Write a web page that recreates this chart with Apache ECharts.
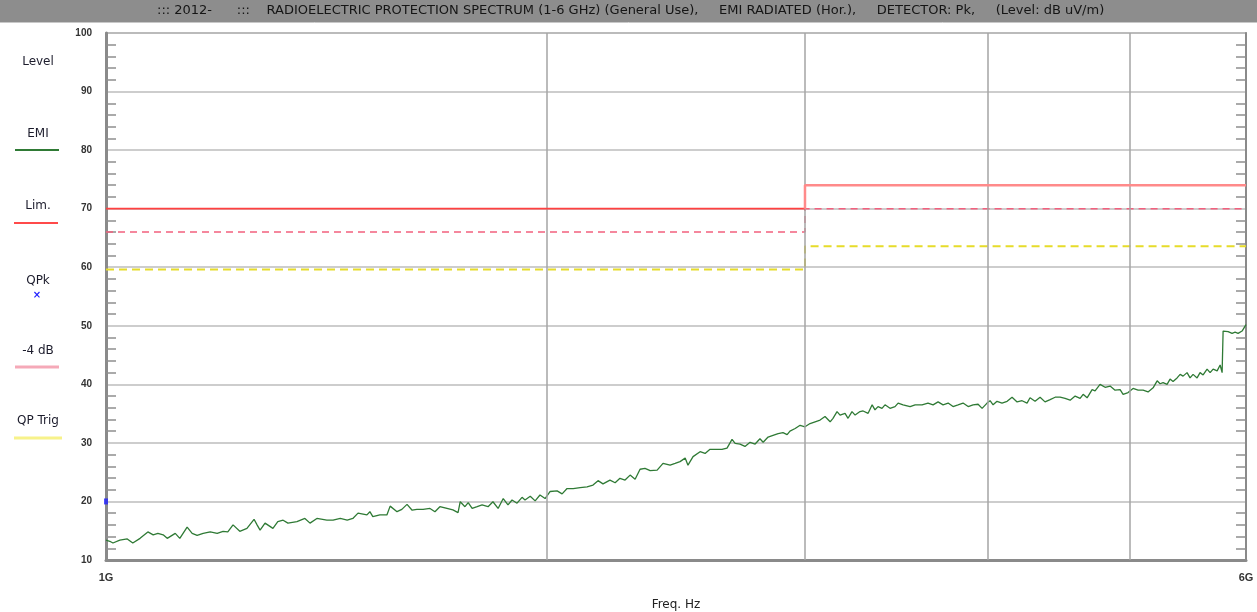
<!DOCTYPE html>
<html>
<head>
<meta charset="utf-8">
<script src="https://cdn.jsdelivr.net/npm/echarts/dist/echarts.min.js"></script>
<style>
  html, body { margin: 0; padding: 0; background: #ffffff; }
  #chart { width: 1257px; height: 612px; }
</style>
</head>
<body>
<div id="chart"></div>
<script>
// EMI sweep: frequency (MHz) and measured peak level (dB uV/m)
const freqMHz = [
  1000,1006,1011,1022,1034,1043,1055,1068,1077,1085,1094,1101,1115,1123,1136,1145,1154,1165,1178,1191,
  1202,1211,1221,1234,1248,1262,1268,1274,1284,1300,1310,1321,1331,1350,1367,1378,1393,1415,1429,1445,
  1461,1474,1486,1507,1514,1521,1538,1555,1563,1580,1592,1605,1618,1630,
  1646,1664,1677,1690,1709,1725,1739,1745,1758,1767,1778,1792,1806,1823,1837,1852,1867,1881,1893,1908,
  1923,1932,1948,1963,1978,1994,2010,2032,2048,2064,2084,2107,2130,2150,2167,2184,2208,2226,2243,2261,
  2279,2297,2315,2333,2352,2378,2400,2427,2446,2465,2485,2496,2516,2544,2564,2584,2605,2633,2654,2675,
  2688,2709,
  2730,2752,2774,2795,2809,2831,2853,2876,2898,2917,2930,2954,2977,3000,3024,3048,3072,3096,3121,3135,
  3155,3170,3195,3210,3230,3246,3271,3287,3313,3334,3349,3365,3386,3402,3429,3456,3473,3500,3539,3567,
  3606,3640,3669,3698,3727,3757,3786,3816,3846,3877,3907,3938,3963,3994,4013,4032,4057,4089,4122,4154,
  4187,4220,4253,4273,4307,4341,4375,4410,4445,4480,
  4515,4551,4587,4623,4645,4674,4711,4733,4770,4808,4846,4884,4923,4946,4985,5024,5064,5104,5144,5185,
  5218,5242,5267,5300,5325,5350,5384,5410,5435,5469,5495,5521,5556,5582,5609,5644,5671,5698,5734,5761,
  5779,5788,5806,5834,5870,5898,5926,5963,6000
];
const emiLevel = [
  13.4,13.2,12.9,13.4,13.6,12.9,13.7,14.8,14.3,14.55,14.3,13.7,14.55,13.7,15.6,14.55,14.2,14.55,14.8,14.55,
  14.9,14.8,16.0,14.9,15.4,16.95,16.0,15.1,16.3,15.4,16.55,16.8,16.3,16.55,17.1,16.3,17.1,16.8,16.8,17.1,
  16.8,17.1,18.0,17.7,18.25,17.4,17.7,17.7,19.2,18.25,18.65,19.5,18.5,18.65,
  18.65,18.8,18.25,19.1,18.8,18.55,18.1,19.95,19.1,19.8,18.8,19.1,19.4,19.1,19.95,18.8,20.5,19.4,20.25,19.7,
  20.7,20.25,20.9,20.1,21.1,20.5,21.7,21.8,21.3,22.2,22.2,22.35,22.5,22.8,23.55,23.0,23.65,23.2,23.95,23.65,
  24.5,23.8,25.5,25.65,25.25,25.35,26.5,26.2,26.5,26.8,27.4,26.2,27.65,28.5,28.2,28.9,28.9,28.9,29.1,30.6,
  29.9,29.8,
  29.4,30.1,29.8,30.7,30.1,31.0,31.3,31.6,31.75,31.4,32.0,32.45,33.0,32.75,33.3,33.6,33.9,34.5,33.6,34.2,
  35.35,34.75,35.05,34.2,35.35,34.75,35.35,35.45,35.05,36.5,35.65,36.2,35.9,36.5,35.9,36.2,36.8,36.5,36.2,36.5,
  36.5,36.8,36.5,37.0,36.5,36.8,36.2,36.5,36.8,36.2,36.5,36.6,35.9,36.8,37.2,36.5,37.1,36.8,37.1,37.8,
  37.0,37.2,36.8,37.7,37.1,37.8,37.0,37.4,37.8,37.8,
  37.6,37.3,38.0,37.6,38.3,37.7,39.1,38.9,40.0,39.5,39.7,39.0,39.1,38.3,38.6,39.3,39.0,39.0,38.7,39.4,
  40.6,40.1,40.3,40.0,40.9,40.5,41.1,41.7,41.4,42.0,41.1,41.7,41.1,42.0,41.6,42.6,42.0,42.6,42.3,43.3,
  42.0,49.1,49.1,49.0,48.7,48.9,48.7,49.1,50.2
];

// Limit bands (MHz edges) and per-band levels
const bandEdgesMHz = [1000, 3000, 6000];
const limitLevel   = [70, 74];
const minus4Level  = [66, 70];
const qpTrigLevel  = [59.6, 63.6];

// Quasi-peak result
const qpkFreqMHz = [1000];
const qpkLevel   = [20];

// Axis ticks
const xGridMHz   = [2000, 3000, 4000, 5000];
const xLabelMHz  = [1000, 6000];
const xLabelText = ['1G', '6G'];
const yMin = 10, yMax = 100, yStep = 10;

const FONT = '"DejaVu Sans", Verdana, sans-serif';
const NUM_FONT = '"Liberation Sans", Arial, sans-serif';

function bandSteps(levels) {
  const pts = [];
  for (let i = 0; i < levels.length; i++) {
    pts.push([bandEdgesMHz[i], levels[i]]);
    pts.push([bandEdgesMHz[i + 1], levels[i]]);
  }
  return pts;
}

const emiData = freqMHz.map((f, i) => [f, emiLevel[i]]);
const qpkData = qpkFreqMHz.map((f, i) => [f, qpkLevel[i]]);
const limLow  = [[bandEdgesMHz[0], limitLevel[0]], [bandEdgesMHz[1], limitLevel[0]]];
const limHigh = [[bandEdgesMHz[1], limitLevel[0]], [bandEdgesMHz[1], limitLevel[1]], [bandEdgesMHz[2], limitLevel[1]]];

const chart = echarts.init(document.getElementById('chart'), null, { renderer: 'canvas' });

// Left-hand key: caption above a short sample stroke
const keyItems = [
  { text: 'Level',   y: 62 },
  { text: 'EMI',     y: 134, line: { y: 150, x1: 15, x2: 59, color: '#2f7a35', width: 2 } },
  { text: 'Lim.',    y: 206, line: { y: 223, x1: 14, x2: 58, color: '#ff4a4a', width: 2 } },
  { text: 'QPk',     y: 281, mark: { x: 37, y: 295 } },
  { text: '-4 dB',   y: 351, line: { y: 367, x1: 15, x2: 59, color: '#f5a9b8', width: 3 } },
  { text: 'QP Trig', y: 421, line: { y: 438, x1: 14, x2: 62, color: '#f7f28a', width: 3 } }
];
const keyGraphics = [];
keyItems.forEach(k => {
  keyGraphics.push({
    type: 'text', x: 38, y: k.y,
    style: { text: k.text, fill: '#1c1c2c', font: '12px ' + FONT, textAlign: 'center', textVerticalAlign: 'middle' }
  });
  if (k.line) {
    keyGraphics.push({
      type: 'line',
      shape: { x1: k.line.x1, y1: k.line.y, x2: k.line.x2, y2: k.line.y },
      style: { stroke: k.line.color, lineWidth: k.line.width }
    });
  }
  if (k.mark) {
    keyGraphics.push({
      type: 'text', x: k.mark.x, y: k.mark.y,
      style: { text: '×', fill: '#2222ff', font: 'bold 10px ' + FONT, textAlign: 'center', textVerticalAlign: 'middle' }
    });
  }
});

const option = {
  animation: false,
  backgroundColor: '#ffffff',
  title: {
    text: '::: 2012-      :::    RADIOELECTRIC PROTECTION SPECTRUM (1-6 GHz) (General Use),     EMI RADIATED (Hor.),     DETECTOR: Pk,     (Level: dB uV/m)',
    left: 157, top: 4, padding: 0,
    textStyle: { fontFamily: FONT, fontSize: 13, fontWeight: 'normal', color: '#151515' }
  },
  graphic: [
    { type: 'rect', z: -10, shape: { x: 0, y: 0, width: 1257, height: 22 }, style: { fill: '#8d8d8d' } },
    { type: 'line', z: -10, shape: { x1: 0, y1: 22.5, x2: 1257, y2: 22.5 }, style: { stroke: '#c8c8c8', lineWidth: 1 } }
  ].concat(keyGraphics),
  grid: {
    left: 106, right: 11, top: 33, bottom: 52,
    outerBoundsMode: 'none',
    show: true, borderColor: '#a0a0a0', borderWidth: 1.5, backgroundColor: '#ffffff'
  },
  xAxis: {
    type: 'log', logBase: 10, min: 1000, max: 6000,
    name: 'Freq. Hz', nameLocation: 'middle', nameGap: 39,
    nameTextStyle: { fontFamily: FONT, fontSize: 12, color: '#222' },
    axisLine: { show: true, lineStyle: { color: '#8a8a8a', width: 3 } },
    axisTick: { show: false },
    axisLabel: {
      customValues: xLabelMHz,
      formatter: v => xLabelText[xLabelMHz.indexOf(Math.round(v))] || '',
      fontFamily: NUM_FONT, fontSize: 11, fontWeight: 'bold', color: '#333', margin: 12
    },
    splitLine: { show: false },
    minorSplitLine: { show: false }
  },
  yAxis: [
    {
      type: 'value', min: yMin, max: yMax, interval: yStep,
      axisLine: { show: true, lineStyle: { color: '#8a8a8a', width: 3 } },
      axisTick: { show: false, inside: true },
      minorTick: { show: true, splitNumber: 5, length: 10, lineStyle: { color: '#8f8f8f', width: 1.5 } },
      axisLabel: { fontFamily: NUM_FONT, fontSize: 10, fontWeight: 'bold', color: '#333', margin: 14 },
      splitLine: { show: true, lineStyle: { color: '#bdbdbd', width: 1.5 } }
    },
    {
      type: 'value', min: yMin, max: yMax, interval: yStep, position: 'right',
      axisLine: { show: true, lineStyle: { color: '#8a8a8a', width: 2 } },
      axisTick: { show: false, inside: true },
      minorTick: { show: true, splitNumber: 5, length: 10, lineStyle: { color: '#8f8f8f', width: 1.5 } },
      axisLabel: { show: false },
      splitLine: { show: false }
    }
  ],
  series: [
    {
      // vertical frequency grid at 2, 3, 4, 5 GHz
      name: 'freqGrid', type: 'line', data: [], z: 1, silent: true,
      markLine: {
        silent: true, symbol: 'none', label: { show: false },
        lineStyle: { color: '#a4a4a4', width: 1.5, type: 'solid' },
        data: xGridMHz.map(f => ({ xAxis: f }))
      }
    },
    {
      name: 'EMI', type: 'line', data: emiData, z: 3,
      showSymbol: false, symbol: 'none',
      lineStyle: { color: '#2f7a35', width: 1.3 }
    },
    {
      name: 'QP Trig', type: 'line', data: bandSteps(qpTrigLevel), z: 4,
      symbol: 'none',
      lineStyle: { color: '#e6dc2a', width: 2, type: [8, 5] }
    },
    {
      name: '-4 dB', type: 'line', data: bandSteps(minus4Level), z: 4,
      symbol: 'none',
      lineStyle: { color: '#f2607e', width: 1.5, type: [7, 5] }
    },
    {
      name: 'Lim.', type: 'line', data: limLow, z: 5,
      symbol: 'none',
      lineStyle: { color: '#ff4040', width: 1.6 }
    },
    {
      name: 'Lim. high band', type: 'line', data: limHigh, z: 5,
      symbol: 'none',
      lineStyle: { color: '#ff8a8a', width: 2.5 }
    },
    {
      name: 'QPk', type: 'scatter', data: qpkData, z: 6,
      symbol: 'rect', symbolSize: [4, 6], clip: false,
      itemStyle: { color: '#2222ff' }
    }
  ]
};

chart.setOption(option);
</script>
</body>
</html>
